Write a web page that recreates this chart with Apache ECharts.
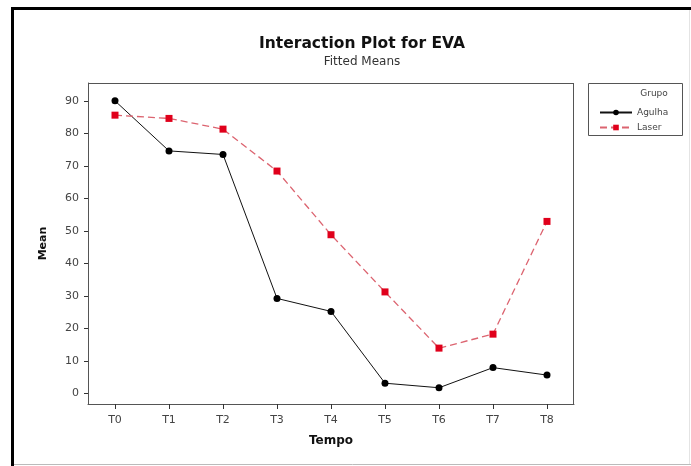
<!DOCTYPE html>
<html>
<head>
<meta charset="utf-8">
<script src="https://cdn.jsdelivr.net/npm/echarts@6/dist/echarts.min.js"></script>
<style>
  html, body { margin: 0; padding: 0; background: #ffffff; }
  #chart { width: 691px; height: 466px; }
</style>
</head>
<body>
<div id="chart"></div>
<script>
// Fitted means of EVA by time point and group
const tempo = ['T0', 'T1', 'T2', 'T3', 'T4', 'T5', 'T6', 'T7', 'T8'];
const agulha = [90.0, 74.6, 73.5, 29.2, 25.2, 3.1, 1.7, 7.9, 5.6];
const laser = [85.6, 84.6, 81.3, 68.4, 48.8, 31.2, 13.9, 18.2, 52.9];
const yTicks = [0, 10, 20, 30, 40, 50, 60, 70, 80, 90];

const FONT = '"DejaVu Sans", Verdana, sans-serif';
const chart = echarts.init(document.getElementById('chart'), null, { renderer: 'canvas' });

chart.setOption({
  backgroundColor: '#ffffff',
  animation: false,
  title: {
    text: 'Interaction Plot for EVA',
    subtext: 'Fitted Means',
    left: 357,
    textAlign: 'center',
    top: 31,
    itemGap: 4,
    textStyle: { fontFamily: FONT, fontSize: 15.5, fontWeight: 'bold', color: '#111' },
    subtextStyle: { fontFamily: FONT, fontSize: 12, color: '#333' }
  },
  grid: { left: 88, top: 83, right: 117, bottom: 62, containLabel: false },
  xAxis: {
    type: 'category',
    data: tempo,
    boundaryGap: true,
    name: 'Tempo',
    nameLocation: 'middle',
    nameGap: 31,
    nameTextStyle: { fontFamily: FONT, fontSize: 12, fontWeight: 'bold', color: '#111' },
    axisLine: { onZero: false, lineStyle: { color: '#555', width: 1 } },
    axisTick: { show: true, interval: 0, alignWithLabel: true, inside: false, length: 5, lineStyle: { color: '#333', width: 1 } },
    axisLabel: { fontFamily: FONT, fontSize: 11, color: '#444', margin: 11 },
    splitLine: { show: false }
  },
  yAxis: {
    type: 'value',
    min: -3.3,
    max: 95.5,
    name: 'Mean',
    nameLocation: 'middle',
    nameGap: 39,
    nameRotate: 90,
    nameTextStyle: { fontFamily: FONT, fontSize: 11, fontWeight: 'bold', color: '#111' },
    axisLine: { show: true, onZero: false, lineStyle: { color: '#555', width: 1 } },
    axisTick: { show: true, length: 4, lineStyle: { color: '#333' }, customValues: yTicks },
    axisLabel: { fontFamily: FONT, fontSize: 11, color: '#444', margin: 9, customValues: yTicks },
    splitLine: { show: false }
  },
  legend: {
    orient: 'vertical',
    left: 594,
    top: 103,
    itemWidth: 32,
    itemHeight: 7,
    itemGap: 6,
    textStyle: { fontFamily: FONT, fontSize: 9, color: '#444' },
    data: ['Agulha', 'Laser']
  },
  graphic: [
    // outer page frame
    { type: 'line', shape: { x1: 11, y1: 8.5, x2: 691, y2: 8.5 }, style: { stroke: '#000', lineWidth: 3 } },
    { type: 'line', shape: { x1: 12.5, y1: 7, x2: 12.5, y2: 466 }, style: { stroke: '#000', lineWidth: 3 } },
    { type: 'line', shape: { x1: 14, y1: 464.5, x2: 691, y2: 464.5 }, style: { stroke: '#bbb', lineWidth: 1 } },
    { type: 'line', shape: { x1: 689.5, y1: 10, x2: 689.5, y2: 464 }, style: { stroke: '#e4e4e4', lineWidth: 1 } },
    // plot frame (top and right sides)
    { type: 'line', shape: { x1: 88, y1: 83.5, x2: 574, y2: 83.5 }, style: { stroke: '#555', lineWidth: 1 } },
    { type: 'line', shape: { x1: 573.5, y1: 83, x2: 573.5, y2: 404 }, style: { stroke: '#555', lineWidth: 1 } },
    // legend box and heading
    { type: 'rect', shape: { x: 588.5, y: 83.5, width: 94, height: 52 }, style: { fill: 'none', stroke: '#555', lineWidth: 1 } },
    { type: 'text', x: 654, y: 94, style: { text: 'Grupo', font: '9px ' + FONT, fill: '#444', align: 'center', verticalAlign: 'middle' } }
  ],
  series: [
    {
      name: 'Agulha',
      type: 'line',
      data: agulha,
      symbol: 'circle',
      symbolSize: 7,
      itemStyle: { color: '#000' },
      lineStyle: { color: '#111', width: 1, type: 'solid' }
    },
    {
      name: 'Laser',
      type: 'line',
      data: laser,
      symbol: 'rect',
      symbolSize: 7,
      itemStyle: { color: '#e0001b' },
      lineStyle: { color: '#dc6470', width: 1.3, type: [7, 4] }
    }
  ]
});
</script>
</body>
</html>
